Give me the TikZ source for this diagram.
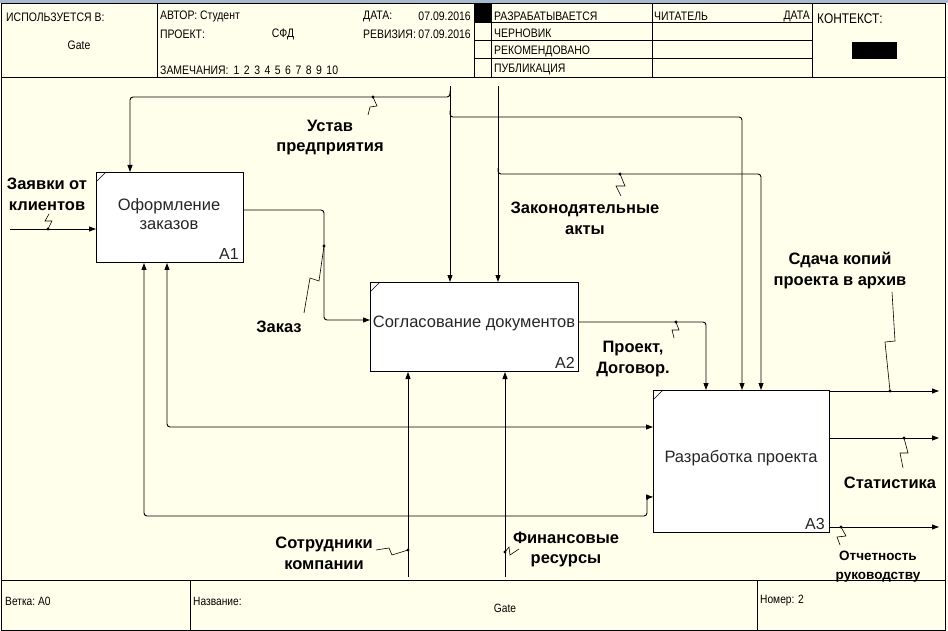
\documentclass[tikz,border=0pt]{standalone}
\usepackage{fontspec}
\setmainfont{Liberation Sans}
\newfontfamily\hdrfont[FakeStretch=0.85]{Liberation Sans}
\usetikzlibrary{arrows.meta}
\definecolor{bg}{RGB}{255,255,236}
\definecolor{strip}{RGB}{170,186,206}
\begin{document}
\begin{tikzpicture}[x=1pt,y=-1pt,
  frame/.style={line width=1pt,draw=black},
  hdr/.style={font=\hdrfont\fontsize{12.3}{14}\selectfont,inner sep=0pt,anchor=west},
  ftr/.style={font=\hdrfont\fontsize{12}{14}\selectfont,inner sep=0pt,anchor=west},
  func/.style={draw,fill=white,line width=1pt,anchor=north west,inner sep=0pt},
  boxtxt/.style={font=\fontsize{16.5}{19}\selectfont,align=center,inner sep=0pt,text=black!85},
  boxnum/.style={font=\fontsize{16}{19}\selectfont,inner sep=0pt,anchor=south east,text=black!85},
  lbl/.style={font=\fontsize{16.5}{20.5}\selectfont\bfseries,align=center,inner sep=0pt},
  slbl/.style={font=\fontsize{13.5}{19}\selectfont\bfseries,align=center,inner sep=0pt},
  flow/.style={line width=0.9pt,rounded corners=3pt,-{Triangle[length=7pt,width=5pt]}},
  both/.style={line width=0.9pt,rounded corners=3pt,{Triangle[length=7pt,width=5pt]}-{Triangle[length=7pt,width=5pt]}},
  sq/.style={line width=0.6pt},
  dotm/.style={fill=black}
]
\useasboundingbox (0,0) rectangle (948,631);
\fill[bg] (0,0) rectangle (948,631);
\fill[strip] (0,0) rectangle (948,3);

% ---------- frame, header, footer ----------
\draw[frame] (1.5,3.5) rectangle (945.5,630.5);
\draw[frame] (1.5,77.5) -- (945.5,77.5);
\draw[frame] (1.5,580.5) -- (945.5,580.5);
\foreach \x in {157.5,474.5,491.5,652.5,812.5} \draw[frame] (\x,3.5) -- (\x,77.5);
\foreach \y in {22.5,40.5,58.5} \draw[frame] (474.5,\y) -- (812.5,\y);
\fill[black] (475,4) rectangle (491,22);
\fill[black] (852,42) rectangle (897,59);
\foreach \x in {190.5,757.5} \draw[frame] (\x,580.5) -- (\x,630.5);

\node[hdr] (usedin) at (6,17) {ИСПОЛЬЗУЕТСЯ В:};
\node[hdr,anchor=center] (usedgate) at (79,45) {Gate};
\node[hdr] (author) at (160,16) {АВТОР: Студент};
\node[hdr] (proj) at (160,34) {ПРОЕКТ:};
\node[hdr,anchor=center] (projname) at (283,34) {СФД};
\node[hdr] (date) at (363,16) {ДАТА:};
\node[hdr,anchor=east] (dateval) at (471,16) {07.09.2016};
\node[hdr] (rev) at (363,34) {РЕВИЗИЯ:};
\node[hdr,anchor=east] (revval) at (471,34) {07.09.2016};
\node[hdr] (notes) at (160,70) {ЗАМЕЧАНИЯ:\hspace{5pt}1\hspace{4.5pt}2\hspace{4.5pt}3\hspace{4.5pt}4\hspace{4.5pt}5\hspace{4.5pt}6\hspace{4.5pt}7\hspace{4.5pt}8\hspace{4.5pt}9\hspace{4.5pt}10};
\node[hdr] (st1) at (494,16) {РАЗРАБАТЫВАЕТСЯ};
\node[hdr] (st2) at (494,33) {ЧЕРНОВИК};
\node[hdr] (st3) at (494,51) {РЕКОМЕНДОВАНО};
\node[hdr] (st4) at (494,69) {ПУБЛИКАЦИЯ};
\node[hdr] (reader) at (654,16) {ЧИТАТЕЛЬ};
\node[hdr,anchor=east] (rdate) at (810,16) {ДАТА};
\node[hdr,font=\hdrfont\fontsize{14}{16}\selectfont] (ctx) at (817,19) {КОНТЕКСТ:};

\node[ftr] (node) at (5,601) {Ветка:\ A0};
\node[ftr] (title) at (193,601) {Название:};
\node[ftr,anchor=center] (titlev) at (505,608) {Gate};
\node[ftr] (num) at (760,601) {Номер: 2};

% ---------- function boxes ----------
\node[func,minimum width=147pt,minimum height=90pt] (A1) at (96,172) {};
\node[func,minimum width=208pt,minimum height=89pt] (A2) at (370,282) {};
\node[func,minimum width=176pt,minimum height=142pt] (A3) at (653,390) {};
\foreach \b in {A1,A2,A3}
  \draw[line width=0.6pt] ([yshift=-10pt]\b.north west) -- ([xshift=10pt]\b.north west);
\node[boxtxt] (t1) at (169,214) {Оформление\\заказов};
\node[boxtxt] (t2) at (474,323) {Согласование документов};
\node[boxtxt] (t3) at (741,458) {Разработка проекта};
\node[boxnum] (n1) at ([xshift=-5pt,yshift=3pt]A1.south east) {A1};
\node[boxnum] (n2) at ([xshift=-4pt,yshift=3pt]A2.south east) {A2};
\node[boxnum] (n3) at ([xshift=-5pt,yshift=3pt]A3.south east) {A3};

% ---------- free ends ----------
\coordinate (ustTop) at (450,86);
\coordinate (zakTop) at (498,86);
\coordinate (zayIn) at (10,229);
\coordinate (sotBot) at (408,577);
\coordinate (finBot) at (505,577);
\coordinate (out1) at (939,391);
\coordinate (out2) at (939,438);
\coordinate (out3) at (939,527);

% ---------- connectors ----------
\draw[flow] (ustTop) -- (ustTop |- A2.north);
\draw[flow] (450,91) -- (450,97) -- (130,97) -- (130,0 |- A1.north);
\draw[flow] (450,111) -- (450,117) -- (742,117) -- (742,0 |- A3.north);
\draw[flow] (zakTop) -- (zakTop |- A2.north);
\draw[flow] (498,168) -- (498,174) -- (761,174) -- (761,0 |- A3.north);
\draw[flow] (zayIn) -- (zayIn -| A1.west);
\draw[flow] (A1.east |- 0,210) -- (324,210) -- (324,320) -- (A2.west |- 0,320);
\draw[flow] (A2.east |- 0,322) -- (706,322) -- (706,0 |- A3.north);
\draw[both] (A1.south -| 167,0) -- (167,427) -- (A3.west |- 0,427);
\draw[both] (A1.south -| 144,0) -- (144,516) -- (647,516) -- (647,497) -- (A3.west |- 0,497);
\draw[flow] (sotBot) -- (sotBot |- A2.south);
\draw[flow] (finBot) -- (finBot |- A2.south);
\draw[flow] (A3.east |- out1) -- (out1);
\draw[flow] (A3.east |- out2) -- (out2);
\draw[flow] (A3.east |- out3) -- (out3);

% ---------- squiggles ----------
\draw[sq] (48,229) -- (52,221) -- (45,221) -- (49,214);   \fill[dotm] (48,229) circle (1.6);
\draw[sq] (373,97) -- (377,106) -- (370,107) -- (368,115); \fill[dotm] (373,97) circle (1.6);
\draw[sq] (620,174) -- (625,186) -- (616,186) -- (621,196); \fill[dotm] (620,174) circle (1.6);
\draw[sq] (324,246) -- (319,281) -- (310,278) -- (304,313); \fill[dotm] (324,246) circle (1.6);
\draw[sq] (676,322) -- (679,330) -- (672,330) -- (674,338); \fill[dotm] (676,322) circle (1.6);
\draw[sq] (890,391) -- (885,342) -- (895,341) -- (892,292); \fill[dotm] (890,391) circle (1.6);
\draw[sq] (904,438) -- (908,453) -- (900,453) -- (903,468); \fill[dotm] (904,438) circle (1.6);
\draw[sq] (841,527) -- (846,536) -- (837,537) -- (840,545); \fill[dotm] (841,527) circle (1.6);
\draw[sq] (408,550) -- (392,555) -- (389,548) -- (376,550); \fill[dotm] (408,550) circle (1.6);
\draw[sq] (505,552) -- (509,547) -- (510,555) -- (519,549); \fill[dotm] (505,552) circle (1.6);

% ---------- labels ----------
\node[lbl] (lZay) at (47,194.5) {Заявки от\\клиентов};
\node[lbl] (lUst) at (330,137.5) {Устав\\предприятия};
\node[lbl] (lZak) at (585,218.5) {Законодятельные\\акты};
\node[lbl] (lOrd) at (279,327) {Заказ};
\node[lbl] (lPro) at (633,359) {Проект,\\Договор.};
\node[lbl] (lSda) at (840,270.5) {Сдача копий\\проекта в архив};
\node[lbl] (lSta) at (890,483) {Статистика};
\node[slbl] (lOtc) at (878,567) {Отчетность\\руководству};
\node[lbl] (lSot) at (324,553.5) {Сотрудники\\компании};
\node[lbl] (lFin) at (566,549.5) {Финансовые\\ресурсы};
\end{tikzpicture}
\end{document}
